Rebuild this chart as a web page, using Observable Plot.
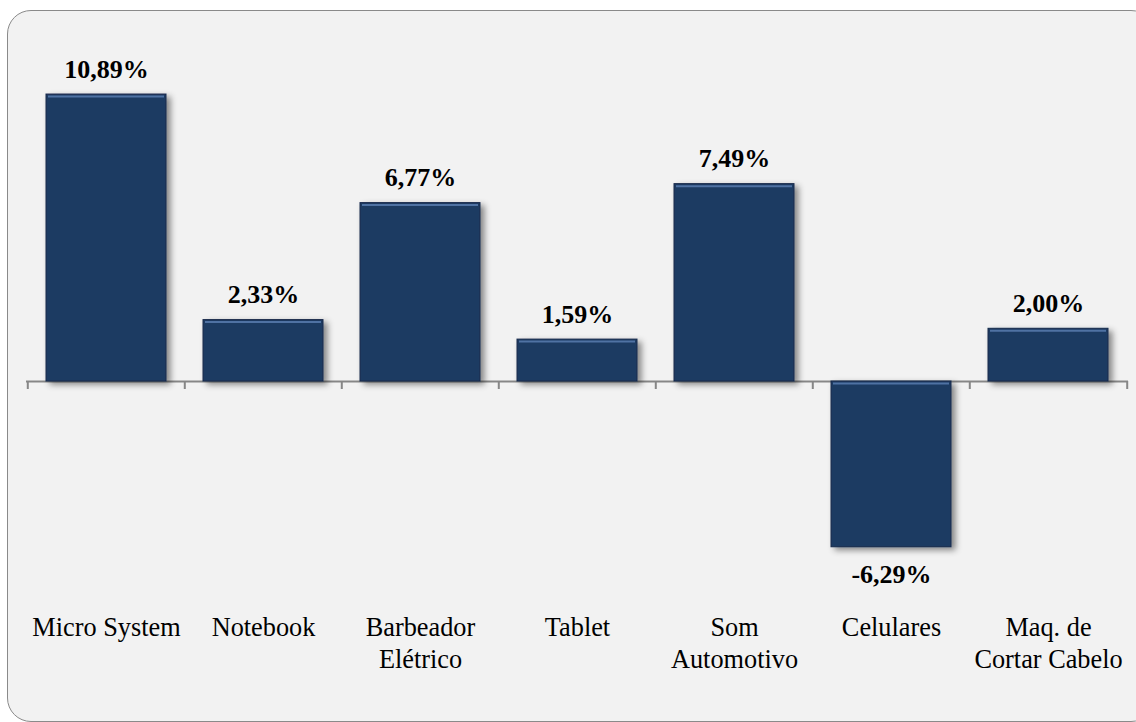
<!DOCTYPE html>
<html>
<head>
<meta charset="utf-8">
<script src="https://cdn.jsdelivr.net/npm/d3@7"></script>
<script src="https://cdn.jsdelivr.net/npm/@observablehq/plot@0.6"></script>
<style>
  html, body { margin: 0; padding: 0; background: #ffffff; overflow: hidden; }
  #wrap { position: relative; width: 1136px; height: 722px; overflow: hidden; }
  #box { position: absolute; left: 7px; top: 10px; width: 1148px; height: 712px;
         box-sizing: border-box; border: 1.6px solid #8a8a8a; border-radius: 24px; background: #f2f2f2; }
  #chart { position: absolute; left: 0; top: 0; }
</style>
</head>
<body>
<div id="wrap"><div id="box"></div><div id="chart"></div></div>
<script>
const categories = ["Micro System", "Notebook", "Barbeador\nElétrico", "Tablet", "Som\nAutomotivo", "Celulares", "Maq. de\nCortar Cabelo"];
const values = [10.89, 2.33, 6.77, 1.59, 7.49, -6.29, 2.00];

const data = categories.map((c, i) => ({category: c, value: values[i]}));
const fmt = v => v.toFixed(2).replace(".", ",") + "%";

const W = 1136, H = 722, mL = 26, mR = 8, mT = 64.8, mB = 130.2;
const step = (W - mL - mR) / categories.length;
const font = "Liberation Serif";

const plot = Plot.plot({
  width: W, height: H,
  marginLeft: mL, marginRight: mR, marginTop: mT, marginBottom: mB,
  style: {background: "transparent", fontFamily: font, overflow: "visible"},
  x: {domain: categories, paddingInner: 0.237, paddingOuter: 0.1185, axis: null},
  y: {domain: [-8, 12], axis: null},
  marks: [
    Plot.ruleY([0], {stroke: "#878787", strokeWidth: 2}),
    Plot.ruleX(categories, {x: d => d, y1: 0, y2: 0, insetBottom: -8, dx: -step / 2, stroke: "#878787", strokeWidth: 2}),
    Plot.ruleX([categories[categories.length - 1]], {x: d => d, y1: 0, y2: 0, insetBottom: -8, dx: step / 2, stroke: "#878787", strokeWidth: 2}),
    Plot.barY(data, {x: "category", y: "value", fill: "#1f3a62", stroke: "#17294a", strokeWidth: 1}),
    Plot.tickY(data, {x: "category", y: d => Math.max(d.value, 0), dy: 2, insetLeft: 2, insetRight: 2, stroke: "#4f72a3", strokeWidth: 2}),
    Plot.text(data.filter(d => d.value >= 0), {x: "category", y: "value", text: d => fmt(d.value), lineAnchor: "bottom", dy: -17, fontSize: 26, fontWeight: "bold", fontFamily: font, fill: "#000"}),
    Plot.text(data.filter(d => d.value < 0), {x: "category", y: "value", text: d => fmt(d.value), lineAnchor: "top", dy: 17.5, fontSize: 26, fontWeight: "bold", fontFamily: font, fill: "#000"}),
    Plot.text(categories, {x: d => d, frameAnchor: "bottom", lineAnchor: "top", dy: 21.7, lineHeight: 1.19, fontSize: 26.3, fontFamily: font, fill: "#000"})
  ]
});

// soft drop shadow on bars
const ns = "http://www.w3.org/2000/svg";
const defs = document.createElementNS(ns, "defs");
defs.innerHTML = '<filter id="barShadow" x="-20%" y="-20%" width="150%" height="150%"><feDropShadow dx="4" dy="3" stdDeviation="3" flood-color="#000" flood-opacity="0.45"/></filter>';
plot.insertBefore(defs, plot.firstChild);
const barG = plot.querySelector('g[aria-label="bar"]');
if (barG) barG.setAttribute("filter", "url(#barShadow)");

document.getElementById("chart").appendChild(plot);
</script>
</body>
</html>
